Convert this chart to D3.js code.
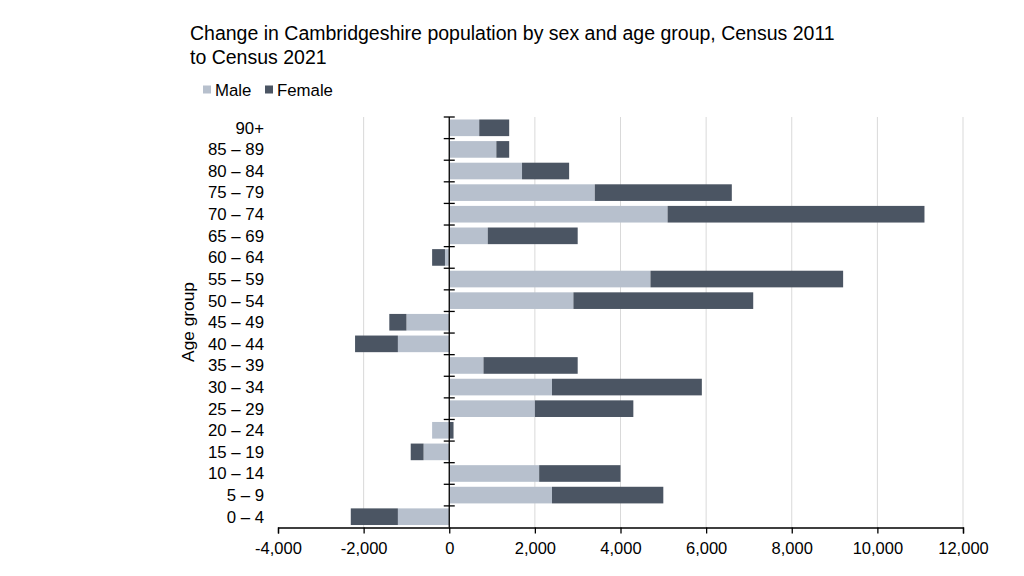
<!DOCTYPE html>
<html><head><meta charset="utf-8">
<script src="https://cdn.jsdelivr.net/npm/d3@7"></script>
<style>body{margin:0;background:#fff;} text{font-family:"Liberation Sans",Arial,sans-serif;}</style>
</head><body><svg id="c" width="1024" height="576"></svg>
<script>
const categories = ["90+","85 – 89","80 – 84","75 – 79","70 – 74","65 – 69","60 – 64","55 – 59","50 – 54","45 – 49","40 – 44","35 – 39","30 – 34","25 – 29","20 – 24","15 – 19","10 – 14","5 – 9","0 – 4"];
const male   = [700,1100,1700,3400,5100,900,-100,4700,2900,-1000,-1200,800,2400,2000,-400,-600,2100,2400,-1200];
const female = [700,300,1100,3200,6000,2100,-300,4500,4200,-400,-1000,2200,3500,2300,100,-300,1900,2600,-1100];
const seriesNames = ["Male","Female"];
const colors = ["#b7c0cd","#4b5563"];
const xTicks = [-4000,-2000,0,2000,4000,6000,8000,10000,12000];

(function(){
const svg = d3.select("#c");
const pLeft = 278, pRight = 963, pTop = 117, pBottom = 527.5;
const x = d3.scaleLinear().domain([-4000,12000]).range([pLeft,pRight]);
const y = d3.scaleBand().domain(categories).range([pTop,pBottom]).paddingInner(0.23).paddingOuter(0.115);

const rows = categories.map((c,i)=>({cat:c, Male:male[i], Female:female[i]}));
const stack = d3.stack().keys(seriesNames).offset(d3.stackOffsetDiverging)(rows);

// gridlines
svg.append("g").selectAll("line").data(xTicks.filter(t=>t!==0 && t!==-4000)).join("line")
  .attr("x1",d=>x(d)).attr("x2",d=>x(d)).attr("y1",pTop).attr("y2",pBottom)
  .attr("stroke","#d9d9d9").attr("stroke-width",1);

// bars
svg.append("g").selectAll("g").data(stack).join("g").attr("fill",(d,i)=>colors[i])
  .selectAll("rect").data(d=>d).join("rect")
  .attr("x",d=>x(Math.min(d[0],d[1]))).attr("width",d=>Math.abs(x(d[1])-x(d[0])))
  .attr("y",d=>y(d.data.cat)).attr("height",y.bandwidth());

// x axis
const fmt = d3.format(",");
const xAxis = svg.append("g").attr("transform",`translate(0,${pBottom})`)
  .call(d3.axisBottom(x).tickValues(xTicks).tickFormat(d=>fmt(d).replace("\u2212","-")).tickSizeOuter(0).tickSize(6));
xAxis.select(".domain").attr("stroke","#000").attr("stroke-width",1.3);
xAxis.selectAll(".tick line").attr("stroke","#000").attr("stroke-width",1.3);
xAxis.selectAll("text").attr("font-size",16.5).attr("fill","#000").attr("dy","1.05em");

// y axis at zero
const y0 = x(0);
svg.append("line").attr("x1",y0).attr("x2",y0).attr("y1",pTop).attr("y2",pBottom).attr("stroke","#000").attr("stroke-width",1.3);
const bounds = d3.range(categories.length).map(i=>pTop + i*(pBottom-pTop)/categories.length);
svg.append("g").selectAll("line").data(bounds).join("line")
  .attr("x1",y0-5.5).attr("x2",y0+5.5).attr("y1",d=>d).attr("y2",d=>d)
  .attr("stroke","#000").attr("stroke-width",1.3);

// category labels
svg.append("g").selectAll("text").data(categories).join("text")
  .attr("x",264).attr("y",d=>y(d)+y.bandwidth()/2).attr("dy","0.35em")
  .attr("text-anchor","end").attr("font-size",16.8).attr("fill","#000").text(d=>d);

// axis title
svg.append("text").attr("transform","translate(194,322) rotate(-90)")
  .attr("text-anchor","middle").attr("font-size",17.3).attr("fill","#000").text("Age group");

// title
svg.append("text").attr("x",190).attr("y",40).attr("font-size",19.5).attr("fill","#000")
  .text("Change in Cambridgeshire population by sex and age group, Census 2011");
svg.append("text").attr("x",190).attr("y",64).attr("font-size",19.5).attr("fill","#000")
  .text("to Census 2021");

// legend
const leg = svg.append("g");
const legX = [203,265];
seriesNames.forEach((n,i)=>{
  leg.append("rect").attr("x",legX[i]).attr("y",85.5).attr("width",8).attr("height",8).attr("fill",colors[i]);
  leg.append("text").attr("x",legX[i]+12).attr("y",96).attr("font-size",16.8).attr("fill","#000").text(n);
});
})();
</script></body></html>
